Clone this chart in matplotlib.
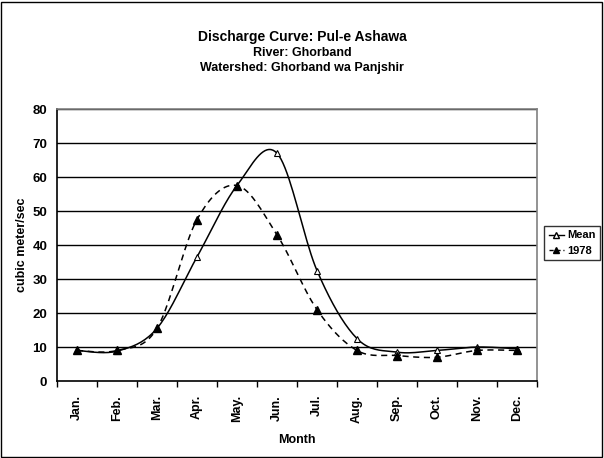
import numpy as np
import matplotlib
matplotlib.use("Agg")
import matplotlib.pyplot as plt
from matplotlib.patches import Rectangle
from matplotlib.lines import Line2D

months = ["Jan.", "Feb.", "Mar.", "Apr.", "May.", "Jun.", "Jul.", "Aug.", "Sep.", "Oct.", "Nov.", "Dec."]
mean_vals = [9.0, 8.8, 15.5, 36.5, 57.5, 67.0, 32.5, 12.5, 8.5, 9.0, 10.0, 9.5]
y1978_vals = [9.0, 9.0, 15.5, 47.5, 57.5, 43.0, 21.0, 9.0, 7.5, 7.0, 9.0, 9.0]
yticks = [0, 10, 20, 30, 40, 50, 60, 70, 80]

plt.rcParams['font.family'] = ['Liberation Sans', 'DejaVu Sans']
plt.rcParams['font.weight'] = 'bold'


def smooth(y, n=20):
    # Catmull-Rom smoothing like Excel's smoothed line
    y = np.asarray(y, float)
    x = np.arange(len(y), dtype=float)
    P = np.concatenate([[y[0]], y, [y[-1]]])
    X = np.concatenate([[x[0]], x, [x[-1]]])
    xs, ys = [], []
    for i in range(1, len(P) - 2):
        t = np.linspace(0, 1, n, endpoint=False)
        for arr, out in ((X, xs), (P, ys)):
            p0, p1, p2, p3 = arr[i - 1], arr[i], arr[i + 1], arr[i + 2]
            out.extend(0.5 * ((2 * p1) + (-p0 + p2) * t + (2 * p0 - 5 * p1 + 4 * p2 - p3) * t ** 2
                              + (-p0 + 3 * p1 - 3 * p2 + p3) * t ** 3))
    xs.append(x[-1]); ys.append(y[-1])
    return np.array(xs), np.array(ys)


fig = plt.figure(figsize=(6.04, 4.58), dpi=100)
fig.patches.append(Rectangle((0.002, 0.003), 0.995, 0.993, transform=fig.transFigure,
                             fill=False, edgecolor='black', linewidth=1.0))

ax = fig.add_axes([0.0944, 0.168, 0.7946, 0.594])
x = np.arange(len(months))

for v in yticks[1:]:
    ax.axhline(v, color='black', linewidth=1.0, zorder=1)

xs, ys = smooth(mean_vals)
ax.plot(xs, ys, color='black', linewidth=1.1, zorder=3)
ax.plot(x, mean_vals, linestyle='none', marker='^', markersize=5, markerfacecolor='white',
        markeredgecolor='black', markeredgewidth=0.8, zorder=4)

xs2, ys2 = smooth(y1978_vals)
ax.plot(xs2, ys2, color='black', linewidth=1.1, linestyle=(0, (4, 3)), zorder=3)
ax.plot(x, y1978_vals, linestyle='none', marker='^', markersize=6, color='black', zorder=4)

ax.set_xlim(-0.5, 11.5)
ax.set_ylim(0, 80)
ax.set_yticks(yticks)
ax.set_yticklabels([str(v) for v in yticks], fontsize=9.5, fontweight='bold')
ax.tick_params(axis='y', length=0, pad=7)
ax.set_xticks(x)
ax.set_xticklabels(months, rotation=90, fontsize=9, fontweight='bold')
ax.set_xticks(np.arange(-0.5, 12, 1), minor=True)
ax.tick_params(axis='x', which='major', length=0, pad=10)
ax.tick_params(axis='x', which='minor', length=4, width=1, direction='out')

for side in ['top', 'right']:
    ax.spines[side].set_color('#808080')
    ax.spines[side].set_linewidth(1.2)
ax.spines['left'].set_color('black')
ax.spines['bottom'].set_color('black')
ax.spines['left'].set_linewidth(1.2)
ax.spines['bottom'].set_linewidth(1.2)

ax.set_ylabel('cubic meter/sec', fontsize=9, fontweight='bold', labelpad=3)
ax.set_xlabel('Month', fontsize=9, fontweight='bold', labelpad=8)

fig.text(0.5, 0.919, 'Discharge Curve: Pul-e Ashawa', ha='center', va='center', fontsize=10, fontweight='bold')
fig.text(0.5, 0.885, 'River: Ghorband', ha='center', va='center', fontsize=9, fontweight='bold')
fig.text(0.5, 0.851, 'Watershed: Ghorband wa Panjshir', ha='center', va='center', fontsize=9, fontweight='bold')

handles = [
    Line2D([0], [0], color='black', linewidth=1.0, marker='^', markersize=4,
           markerfacecolor='white', markeredgecolor='black'),
    Line2D([0], [0], color='black', linewidth=1.0, linestyle=(0, (3, 2)), marker='^', markersize=5),
]
leg = fig.legend(handles, ['Mean', '1978'], loc='center left', bbox_to_anchor=(0.901, 0.469),
                 fontsize=8, frameon=True, fancybox=False, edgecolor='black',
                 handlelength=1.4, handletextpad=0.25, borderpad=0.4, labelspacing=0.5,
                 borderaxespad=0)
leg.get_frame().set_linewidth(1.0)
for t in leg.get_texts():
    t.set_fontweight('bold')

fig.savefig('out.png', dpi=100)
